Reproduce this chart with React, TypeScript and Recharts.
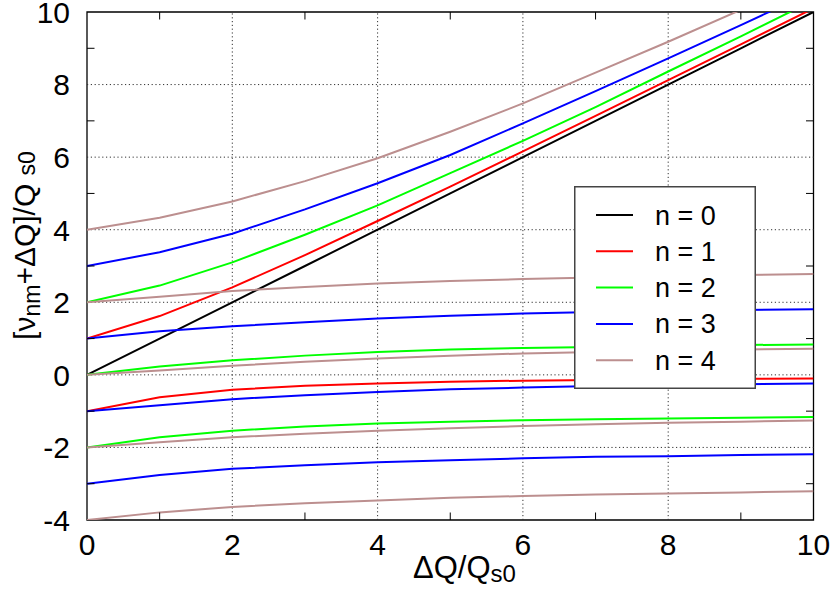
import React from "react";
import {
  LineChart,
  Line,
  XAxis,
  YAxis,
  ReferenceLine,
  ReferenceArea,
  Legend,
} from "recharts";

// ---- data ----
const xValues = [0, 1, 2, 3, 4, 5, 6, 7, 8, 9, 10];

const n0 = [0, 1, 2, 3, 4, 5, 6, 7, 8, 9, 10];

const n1Upper = [1, 1.62, 2.41, 3.3, 4.24, 5.19, 6.16, 7.14, 8.12, 9.11, 10.1];
const n1Lower = [-1, -0.62, -0.41, -0.3, -0.24, -0.19, -0.16, -0.14, -0.12, -0.11, -0.1];

const n2Upper = [2, 2.46, 3.1, 3.86, 4.67, 5.56, 6.45, 7.38, 8.36, 9.33, 10.32];
const n2Middle = [0, 0.23, 0.4, 0.53, 0.63, 0.7, 0.74, 0.77, 0.8, 0.82, 0.84];
const n2Lower = [-2, -1.72, -1.54, -1.42, -1.34, -1.29, -1.25, -1.22, -1.2, -1.18, -1.16];

const n3First = [3, 3.38, 3.89, 4.56, 5.28, 6.06, 6.93, 7.82, 8.72, 9.64, 10.57];
const n3Second = [1, 1.2, 1.34, 1.45, 1.55, 1.63, 1.69, 1.73, 1.76, 1.79, 1.81];
const n3Third = [-1, -0.84, -0.67, -0.56, -0.47, -0.4, -0.35, -0.31, -0.28, -0.26, -0.24];
const n3Fourth = [-3, -2.76, -2.59, -2.49, -2.41, -2.35, -2.3, -2.26, -2.24, -2.21, -2.19];

const n4First = [4, 4.33, 4.78, 5.34, 5.97, 6.7, 7.48, 8.33, 9.18, 10.06, 10.95];
const n4Second = [2, 2.15, 2.31, 2.42, 2.52, 2.59, 2.64, 2.68, 2.72, 2.75, 2.78];
const n4Third = [0, 0.12, 0.25, 0.36, 0.45, 0.53, 0.59, 0.63, 0.67, 0.7, 0.72];
const n4Fourth = [-2, -1.86, -1.72, -1.62, -1.54, -1.47, -1.41, -1.36, -1.32, -1.29, -1.26];
const n4Fifth = [-4, -3.79, -3.64, -3.54, -3.46, -3.39, -3.34, -3.3, -3.27, -3.24, -3.21];

const xTicks = [0, 1, 2, 3, 4, 5, 6, 7, 8, 9, 10];
const yTicks = [-4, -3, -2, -1, 0, 1, 2, 3, 4, 5, 6, 7, 8, 9, 10];
const xGrid = [2, 4, 6, 8];
const yGrid = [-2, 0, 2, 4, 6, 8];
const oddXTicks = [1, 3, 5, 7, 9];
const oddYTicks = [-3, -1, 1, 3, 5, 7, 9];
const legendNames = ["n = 0", "n = 1", "n = 2", "n = 3", "n = 4"];

// series definitions: key, values, colour, legend name (only first branch)
const series = [
  { key: "n0", values: n0, color: "#000000", name: "n = 0" },
  { key: "n1a", values: n1Upper, color: "#ff0000", name: "n = 1" },
  { key: "n1b", values: n1Lower, color: "#ff0000", name: "" },
  { key: "n2a", values: n2Upper, color: "#00ff00", name: "n = 2" },
  { key: "n2b", values: n2Middle, color: "#00ff00", name: "" },
  { key: "n2c", values: n2Lower, color: "#00ff00", name: "" },
  { key: "n3a", values: n3First, color: "#0000ff", name: "n = 3" },
  { key: "n3b", values: n3Second, color: "#0000ff", name: "" },
  { key: "n3c", values: n3Third, color: "#0000ff", name: "" },
  { key: "n3d", values: n3Fourth, color: "#0000ff", name: "" },
  { key: "n4a", values: n4First, color: "#bc8f8f", name: "n = 4" },
  { key: "n4b", values: n4Second, color: "#bc8f8f", name: "" },
  { key: "n4c", values: n4Third, color: "#bc8f8f", name: "" },
  { key: "n4d", values: n4Fourth, color: "#bc8f8f", name: "" },
  { key: "n4e", values: n4Fifth, color: "#bc8f8f", name: "" },
];

const data = xValues.map((x, i) => {
  const row: Record<string, number> = { x };
  series.forEach((s) => {
    row[s.key] = s.values[i];
  });
  return row;
});

const FONT = "'Liberation Sans', Arial, Helvetica, sans-serif";
const TICK_FS = 30;
const TICK_LEN = 7.5;

const BottomTick = (props: any) => {
  const { x, y, payload } = props;
  const v = payload.value;
  if (oddXTicks.includes(v)) {
    return <line x1={x} y1={y} x2={x} y2={y - TICK_LEN} stroke="#000" strokeWidth={1} />;
  }
  return (
    <text x={x} y={y + 35} textAnchor="middle" fontSize={TICK_FS} fontFamily={FONT} fill="#000">
      {v}
    </text>
  );
};

const TopTick = (props: any) => {
  const { x, y, payload } = props;
  if (!oddXTicks.includes(payload.value)) return <g />;
  return <line x1={x} y1={y} x2={x} y2={y + TICK_LEN} stroke="#000" strokeWidth={1} />;
};

const LeftTick = (props: any) => {
  const { x, y, payload } = props;
  const v = payload.value;
  if (oddYTicks.includes(v)) {
    return <line x1={x} y1={y} x2={x + TICK_LEN} y2={y} stroke="#000" strokeWidth={1} />;
  }
  return (
    <text x={x - 17} y={y + 10.8} textAnchor="end" fontSize={TICK_FS} fontFamily={FONT} fill="#000">
      {v}
    </text>
  );
};

const RightTick = (props: any) => {
  const { x, y, payload } = props;
  if (!oddYTicks.includes(payload.value)) return <g />;
  return <line x1={x} y1={y} x2={x - TICK_LEN} y2={y} stroke="#000" strokeWidth={1} />;
};

const XLabel = (props: any) => {
  const vb = props.viewBox || { x: 87, y: 520, width: 726 };
  return (
    <text x={vb.x + 326} y={vb.y + 58} fontSize={31} fontFamily={FONT} fill="#000">
      ΔQ/Q
      <tspan fontSize={24} dy={4}>s0</tspan>
    </text>
  );
};

const YLabel = (props: any) => {
  const vb = props.viewBox || { x: 0, y: 12, width: 87, height: 508 };
  const cx = vb.x + 35;
  const cy = vb.y + vb.height / 2 - 20.5;
  return (
    <text
      x={cx}
      y={cy}
      textAnchor="middle"
      fontSize={30}
      fontFamily={FONT}
      fill="#000"
      transform={`rotate(-90, ${cx}, ${cy})`}
    >
      [ν
      <tspan fontSize={23} dy={5}>nm</tspan>
      <tspan dy={-5}>+ΔQ]/Q </tspan>
      <tspan fontSize={23}>s0</tspan>
    </text>
  );
};

const LegendBox = (props: any) => {
  const all = props.payload || [];
  const payload = legendNames
    .map((n) => all.find((p: any) => p.value === n))
    .filter(Boolean);
  return (
    <svg width={182} height={203} style={{ display: "block" }}>
      <rect x={0.75} y={0.75} width={180.5} height={201.5} fill="#fff" stroke="#444" strokeWidth={1.5} />
      {payload.map((p: any, i: number) => {
        const cy = 29 + i * 36.3;
        return (
          <g key={p.value}>
            <line x1={22} y1={cy} x2={59} y2={cy} stroke={p.color} strokeWidth={2} />
            <text x={81} y={cy + 9.5} fontSize={27} fontFamily={FONT} fill="#000">
              {p.value}
            </text>
          </g>
        );
      })}
    </svg>
  );
};

export default function App() {
  return (
    <div style={{ position: "absolute", left: 0, top: 0, width: 830, height: 591, background: "#fff" }}>
      <LineChart
        width={830}
        height={591}
        data={data}
        margin={{ top: 11, right: 15.5, bottom: 70, left: 0 }}
      >
        <XAxis
          xAxisId="b"
          dataKey="x"
          type="number"
          domain={[0, 10]}
          ticks={xTicks}
          interval={0}
          allowDataOverflow
          orientation="bottom"
          height={1}
          tickSize={0}
          tickMargin={0}
          tickLine={false}
          axisLine={false}
          tick={(p: any) => <BottomTick {...p} />}
          label={(p: any) => <XLabel {...p} />}
        />
        <XAxis
          xAxisId="t"
          dataKey="x"
          type="number"
          domain={[0, 10]}
          ticks={xTicks}
          interval={0}
          allowDataOverflow
          orientation="top"
          height={1}
          tickSize={0}
          tickMargin={0}
          tickLine={false}
          axisLine={false}
          tick={(p: any) => <TopTick {...p} />}
        />
        <YAxis
          yAxisId="l"
          type="number"
          domain={[-4, 10]}
          ticks={yTicks}
          interval={0}
          allowDataOverflow
          orientation="left"
          width={87}
          tickSize={0}
          tickMargin={0}
          tickLine={false}
          axisLine={false}
          tick={(p: any) => <LeftTick {...p} />}
          label={(p: any) => <YLabel {...p} />}
        />
        <YAxis
          yAxisId="r"
          type="number"
          domain={[-4, 10]}
          ticks={yTicks}
          interval={0}
          allowDataOverflow
          orientation="right"
          width={1}
          tickSize={0}
          tickMargin={0}
          tickLine={false}
          axisLine={false}
          tick={(p: any) => <RightTick {...p} />}
        />
        {xGrid.map((g) => (
          <ReferenceLine
            key={`gx${g}`}
            x={g}
            xAxisId="b"
            yAxisId="l"
            stroke="#333"
            strokeWidth={1}
            strokeDasharray="1.2 2.6"
          />
        ))}
        {yGrid.map((g) => (
          <ReferenceLine
            key={`gy${g}`}
            y={g}
            xAxisId="b"
            yAxisId="l"
            stroke="#333"
            strokeWidth={1}
            strokeDasharray="1.2 2.6"
          />
        ))}
        {series.map((s) => (
          <Line
            key={s.key}
            xAxisId="b"
            yAxisId="l"
            type="linear"
            dataKey={s.key}
            name={s.name || s.key}
            stroke={s.color}
            strokeWidth={2}
            dot={false}
            activeDot={false}
            legendType={s.name ? "line" : "none"}
            isAnimationActive={false}
          />
        ))}
        <ReferenceArea
          x1={0}
          x2={10}
          y1={-4}
          y2={10}
          xAxisId="b"
          yAxisId="l"
          fill="none"
          fillOpacity={0}
          stroke="#000"
          strokeWidth={1.3}
        />
        <Legend
          layout="vertical"
          align="center"
          verticalAlign="middle"
          content={(p: any) => <LegendBox {...p} />}
          wrapperStyle={{ position: "absolute", left: 574, top: 186, width: 182, height: 203 }}
        />
      </LineChart>
    </div>
  );
}
